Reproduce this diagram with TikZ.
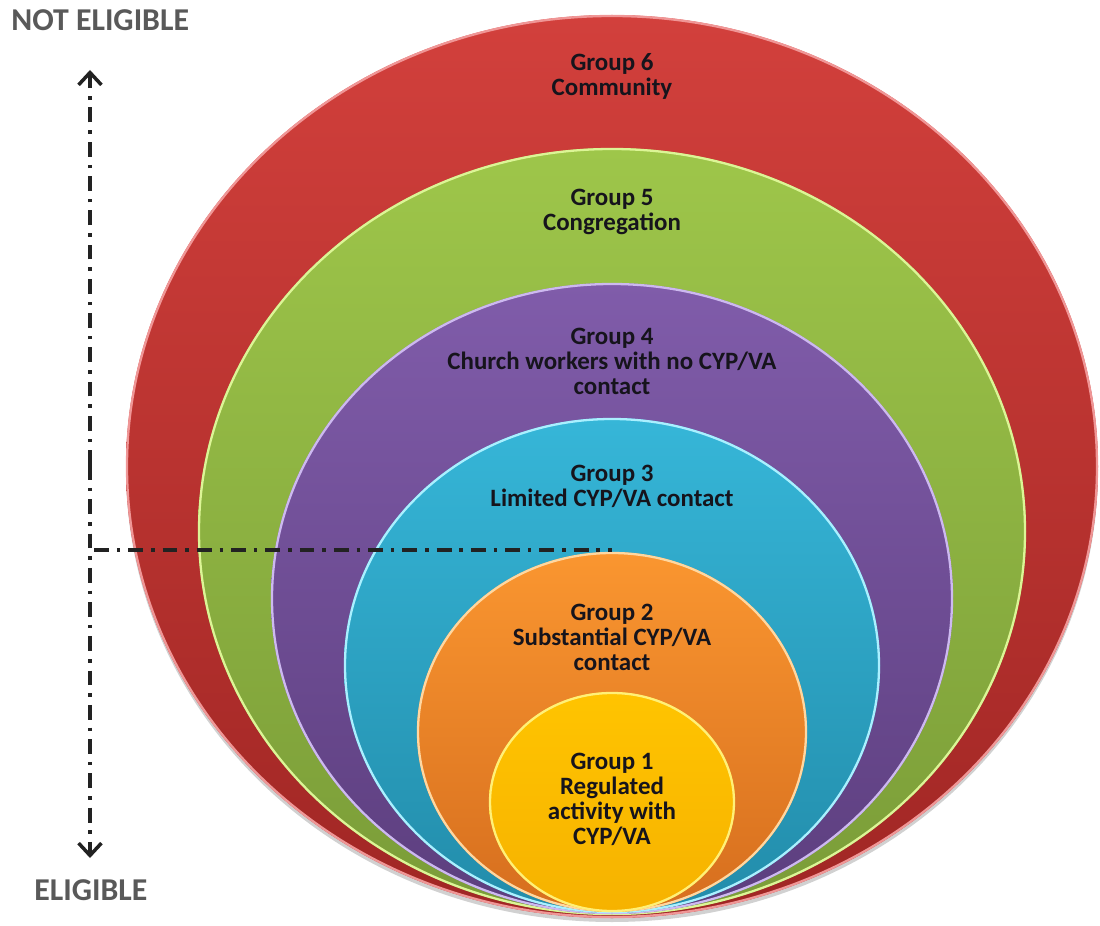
\documentclass[tikz,border=0pt]{standalone}
\usepackage{fontspec}
\setmainfont{Carlito}
\usetikzlibrary{arrows.meta}
\definecolor{redT}{RGB}{210,64,60}
\definecolor{redB}{RGB}{160,38,36}
\definecolor{redR}{RGB}{240,150,150}
\definecolor{grnT}{RGB}{158,198,74}
\definecolor{grnB}{RGB}{122,156,56}
\definecolor{grnR}{RGB}{220,245,150}
\definecolor{purT}{RGB}{128,92,170}
\definecolor{purB}{RGB}{92,62,126}
\definecolor{purR}{RGB}{205,185,240}
\definecolor{cyaT}{RGB}{54,182,216}
\definecolor{cyaB}{RGB}{34,140,170}
\definecolor{cyaR}{RGB}{170,240,255}
\definecolor{orgT}{RGB}{250,150,48}
\definecolor{orgB}{RGB}{214,110,30}
\definecolor{orgR}{RGB}{255,215,160}
\definecolor{ylwT}{RGB}{255,196,0}
\definecolor{ylwB}{RGB}{246,178,0}
\definecolor{ylwR}{RGB}{255,240,120}
\definecolor{txt}{RGB}{22,20,28}
\definecolor{lbl}{RGB}{89,89,89}
\definecolor{axis}{RGB}{34,34,34}
\begin{document}
\begin{tikzpicture}[x=0.02cm,y=-0.02cm,
  grp/.style={align=center,text=txt,font=\fontsize{14.2}{14.2}\selectfont\bfseries,inner sep=0pt},
  side/.style={text=lbl,font=\fontsize{18.1}{20}\selectfont\bfseries,inner sep=0pt},
  rim/.style={line width=1.3pt},
  axisline/.style={draw=axis,line width=2.2pt,dash pattern=on 8.5pt off 4.5pt on 2pt off 4.5pt},
  tip/.style={-{Straight Barb[length=7pt,width=13pt,line width=2pt]}}
]
\useasboundingbox (0,0) rectangle (1100,926);
% shadow
\fill[black!18] (612,470) ellipse [x radius=486, y radius=452];
% ellipses
\shade[top color=redT,bottom color=redB] (612,466.5) ellipse [x radius=486, y radius=451.5];
\draw[rim,redR] (612,466.5) ellipse [x radius=485, y radius=450.5];
\shade[top color=grnT,bottom color=grnB] (612,531.5) ellipse [x radius=414, y radius=383.5];
\draw[rim,grnR] (612,531.5) ellipse [x radius=413, y radius=382.5];
\shade[top color=purT,bottom color=purB] (612,598.5) ellipse [x radius=341, y radius=315.5];
\draw[rim,purR] (612,598.5) ellipse [x radius=340, y radius=314.5];
\shade[top color=cyaT,bottom color=cyaB] (612,665.5) ellipse [x radius=268, y radius=247.5];
\draw[rim,cyaR] (612,665.5) ellipse [x radius=267, y radius=246.5];
\shade[top color=orgT,bottom color=orgB] (612,732) ellipse [x radius=195, y radius=180];
\draw[rim,orgR] (612,732) ellipse [x radius=194, y radius=179];
\shade[top color=ylwT,bottom color=ylwB] (612,802) ellipse [x radius=123, y radius=110];
\draw[rim,ylwR] (612,802) ellipse [x radius=122, y radius=109];
% texts
\node[grp] (g6) at (612,76) {Group 6\\Community};
\node[grp] (g5) at (612,212) {Group 5\\Congregation};
\node[grp] (g4) at (612,361) {Group 4\\Church workers with no CYP/VA\\contact};
\node[grp] (g3) at (612,486) {Group 3\\Limited CYP/VA contact};
\node[grp] (g2) at (612,637) {Group 2\\Substantial CYP/VA\\contact};
\node[grp] (g1) at (612,799) {Group 1\\Regulated\\activity with\\CYP/VA};
% side labels
\node[side,anchor=west] (ne) at (11,20) {NOT ELIGIBLE};
\node[side,anchor=west] (el) at (34,890) {ELIGIBLE};
% axes
\coordinate (vtop) at (90,70);
\coordinate (vbot) at (90,858);
\coordinate (vmid) at (90,465);
\coordinate (hs) at (94,550);
\coordinate (he) at (612,550);
\draw[axisline,tip] (vmid) -- (vtop);
\draw[axisline,tip] (vmid) -- (vbot);
\draw[axisline] (hs) -- (he);
\end{tikzpicture}
\end{document}
